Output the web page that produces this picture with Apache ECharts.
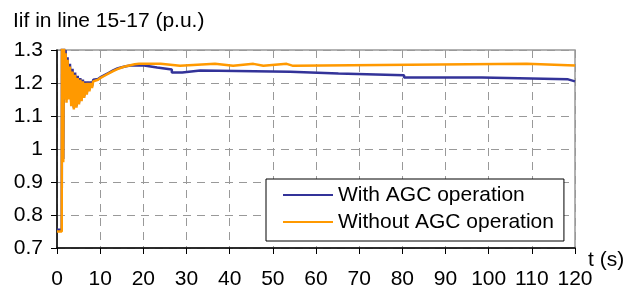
<!DOCTYPE html>
<html>
<head>
<meta charset="utf-8">
<script src="https://cdn.jsdelivr.net/npm/echarts@6/dist/echarts.min.js"></script>
<style>
  html, body { margin: 0; padding: 0; background: #fff; }
  #chart { width: 634px; height: 291px; }
</style>
</head>
<body>
<div id="chart"></div>
<script>
// series names
var seriesNames = ['With AGC operation', 'Without AGC operation'];

// Iif (p.u.) vs t (s)
var withAgc = [
  [0, 0.755], [1.1, 0.755], [1.15, 1.33], [1.35, 1.33], [1.45, 0.97], [1.6, 1.33],
  [1.8, 1.16], [2.0, 1.3], [2.2, 1.15], [2.45, 1.278], [2.7, 1.16], [3.0, 1.258],
  [3.3, 1.14], [3.6, 1.243], [3.9, 1.125], [4.2, 1.232], [4.5, 1.13], [4.8, 1.222],
  [5.1, 1.14], [5.4, 1.215], [5.7, 1.15], [6.0, 1.21], [6.3, 1.16], [6.6, 1.205],
  [6.9, 1.17], [7.2, 1.205], [7.5, 1.18], [7.8, 1.205], [8.1, 1.19], [8.4, 1.21],
  [8.8, 1.205], [9.5, 1.212], [10, 1.217], [11, 1.224], [12, 1.231], [13, 1.238],
  [14, 1.244], [15, 1.248], [16, 1.251], [17, 1.253],
  [20.2, 1.253], [20.2, 1.247], [23.2, 1.247], [23.2, 1.241], [26.6, 1.241],
  [26.6, 1.232], [29, 1.232], [29, 1.238], [33.2, 1.238], [33.2, 1.234],
  [54, 1.234], [54, 1.229], [65.2, 1.229], [65.2, 1.2235], [80.4, 1.2235],
  [80.4, 1.217], [98.4, 1.217], [98.4, 1.211], [118.4, 1.211], [118.4, 1.205],
  [120, 1.205]
];

var withoutAgc = [
  [0, 0.75], [1.1, 0.75], [1.15, 1.33], [1.35, 1.33], [1.45, 0.96], [1.6, 1.33],
  [1.8, 1.15], [2.0, 1.29], [2.2, 1.14], [2.45, 1.27], [2.7, 1.15], [3.0, 1.25],
  [3.3, 1.13], [3.6, 1.235], [3.9, 1.12], [4.2, 1.225], [4.5, 1.125], [4.8, 1.215],
  [5.1, 1.135], [5.4, 1.21], [5.7, 1.145], [6.0, 1.205], [6.3, 1.155], [6.6, 1.2],
  [6.9, 1.165], [7.2, 1.2], [7.5, 1.175], [7.8, 1.2], [8.1, 1.185], [8.4, 1.205],
  [8.8, 1.2], [9.5, 1.21], [10, 1.215], [11, 1.222], [12, 1.229], [13, 1.236],
  [14, 1.242], [15, 1.247], [16, 1.251], [17, 1.254], [18, 1.257], [19, 1.258],
  [24, 1.258], [24, 1.252], [28.5, 1.252], [28.5, 1.258], [36.6, 1.258],
  [36.6, 1.252], [40.8, 1.252], [40.8, 1.258], [45.5, 1.258], [45.5, 1.252],
  [47.8, 1.252], [47.8, 1.258], [53.2, 1.258], [53.2, 1.252], [54.7, 1.252],
  [54.7, 1.258], [108.8, 1.258], [108.8, 1.253], [120, 1.253]
];

var chart = echarts.init(document.getElementById('chart'), null, { renderer: 'canvas' });
var font = 'Liberation Sans, Arial, sans-serif';

var option = {
  animation: false,
  backgroundColor: '#fff',
  textStyle: { fontFamily: font },
  grid: {
    left: 57, right: 59, top: 50, bottom: 43,
    show: true, borderColor: '#999', borderWidth: 1.5, backgroundColor: '#fff'
  },
  graphic: [
    { type: 'text', left: 13, top: 11,
      style: { text: 'Iif in line 15-17 (p.u.)', font: '21px ' + font, fill: '#000' } },
    { type: 'text', left: 588, top: 250,
      style: { text: 't (s)', font: '21px ' + font, fill: '#000' } }
  ],
  legend: {
    orient: 'vertical',
    left: 266, top: 179,
    padding: [5, 10, 8, 17],
    icon: 'rect',
    itemWidth: 50, itemHeight: 2, itemGap: 5,
    backgroundColor: '#fff', borderColor: '#000', borderWidth: 1,
    textStyle: { fontSize: 21, color: '#000', lineHeight: 22, fontFamily: font },
    data: seriesNames
  },
  xAxis: {
    type: 'value', min: 0, max: 120, interval: 10,
    axisLine: { show: true, lineStyle: { color: '#000', width: 1.5 } },
    axisTick: { show: true, length: 6, lineStyle: { color: '#000' } },
    axisLabel: { fontSize: 21, color: '#000', margin: 21, fontFamily: font },
    splitLine: { show: true, lineStyle: { color: '#999', type: [8, 6], width: 1 } }
  },
  yAxis: {
    type: 'value', min: 0.7, max: 1.3, interval: 0.1,
    axisLine: { show: true, lineStyle: { color: '#000', width: 1.5 } },
    axisTick: { show: true, length: 6, lineStyle: { color: '#000' } },
    axisLabel: {
      fontSize: 21, color: '#000', margin: 14, fontFamily: font,
      formatter: function (v) { return String(Math.round(v * 10) / 10); }
    },
    splitLine: { show: true, lineStyle: { color: '#999', type: [8, 6], width: 1 } }
  },
  series: [
    { name: seriesNames[0], type: 'line', data: withAgc, symbol: 'none',
      color: '#333399', lineStyle: { color: '#333399', width: 2.5 } },
    { name: seriesNames[1], type: 'line', data: withoutAgc, symbol: 'none',
      color: '#FF9900', lineStyle: { color: '#FF9900', width: 2.5 } }
  ]
};
chart.setOption(option);
</script>
</body>
</html>
